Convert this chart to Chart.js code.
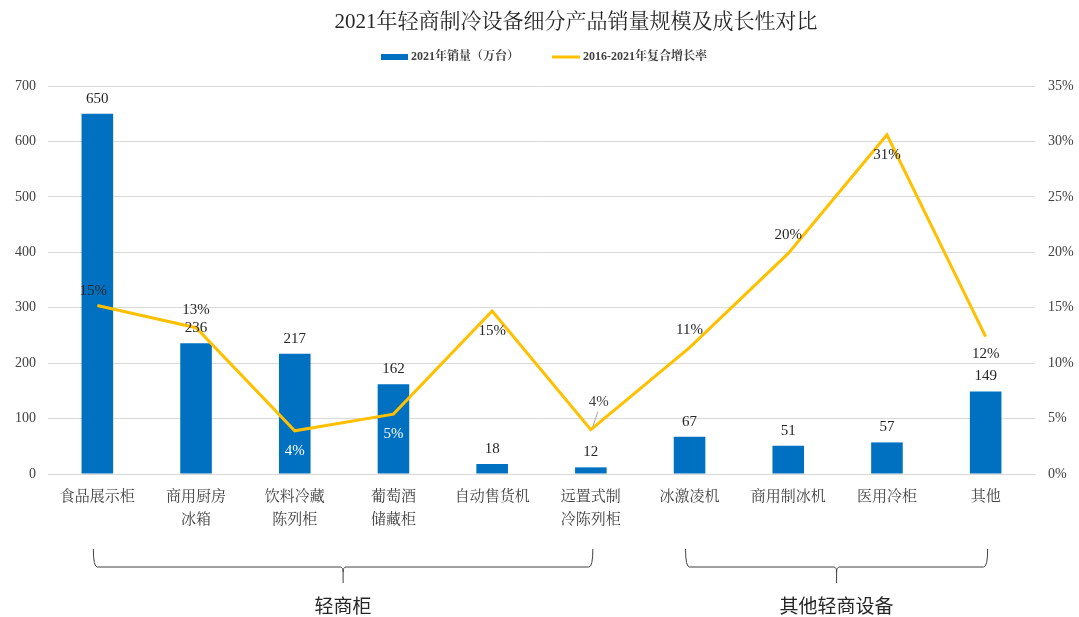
<!DOCTYPE html>
<html>
<head>
<meta charset="utf-8">
<script src="https://cdn.jsdelivr.net/npm/chart.js@4.4.1/dist/chart.umd.min.js"></script>
<style>
  body { margin: 0; background: #fff; }
</style>
</head>
<body>
<canvas id="salesChart" width="1079" height="617"></canvas>
<script>
// data
const categories = [
  ["食品展示柜"], ["商用厨房", "冰箱"], ["饮料冷藏", "陈列柜"], ["葡萄酒", "储藏柜"],
  ["自动售货机"], ["远置式制", "冷陈列柜"], ["冰激凌机"], ["商用制冰机"], ["医用冷柜"], ["其他"]
];
const sales = [650, 236, 217, 162, 18, 12, 67, 51, 57, 149];          // 万台
const growth = [15.2, 13.2, 3.9, 5.4, 14.7, 4.0, 11.4, 19.9, 30.6, 12.4]; // %
const groupNames = ["轻商柜", "其他轻商设备"];
const groupFrom = [0, 6];
const groupTo = [5, 9];

// where the % labels sit around each point (style only)
const pctDx = [-4, 0, 0, 0, 0, 8, 0, 0, 0, 0];
const pctDy = [-14, -18, 20, 20, 20, -28, -18, -18, 20, 18];
const pctColor = ["#262626", "#262626", "#fff", "#fff", "#262626", "#404040", "#262626", "#262626", "#262626", "#262626"];

const SERIF = "'Liberation Serif', 'Noto Serif CJK SC', 'Noto Sans CJK SC', serif";
const TXT = "#262626";

const extras = {
  id: "extras",
  afterDatasetsDraw(chart) {
    const ctx = chart.ctx;
    ctx.save();
    ctx.textAlign = "center";
    ctx.textBaseline = "middle";
    ctx.font = "15px " + SERIF;

    // bar values
    chart.getDatasetMeta(0).data.forEach((bar, i) => {
      ctx.fillStyle = TXT;
      ctx.fillText(sales[i], bar.x, bar.y - 15);
    });

    // growth labels
    chart.getDatasetMeta(1).data.forEach((pt, i) => {
      const x = pt.x + pctDx[i];
      const y = pt.y + pctDy[i];
      if (i == 5) {
        ctx.strokeStyle = "#a6a6a6";
        ctx.lineWidth = 1;
        ctx.beginPath();
        ctx.moveTo(pt.x + 2, pt.y - 3);
        ctx.lineTo(x - 1, y + 10);
        ctx.stroke();
      }
      ctx.fillStyle = pctColor[i];
      ctx.fillText(Math.round(growth[i]) + "%", x, y);
    });
    ctx.restore();
  },
  afterDraw(chart) {
    const ctx = chart.ctx;
    const xs = chart.scales.x;
    const ds = chart.data.datasets;
    ctx.save();

    // title
    ctx.fillStyle = TXT;
    ctx.textAlign = "center";
    ctx.textBaseline = "middle";
    ctx.font = "21px " + SERIF;
    ctx.fillText("2021年轻商制冷设备细分产品销量规模及成长性对比", 576, 22);

    // legend
    ctx.textAlign = "left";
    ctx.font = "bold 12px " + SERIF;
    ctx.fillStyle = ds[0].backgroundColor;
    ctx.fillRect(381, 54, 27, 6);
    ctx.fillStyle = "#404040";
    ctx.fillText(ds[0].label, 411, 57);
    ctx.strokeStyle = ds[1].borderColor;
    ctx.lineWidth = 3;
    ctx.beginPath();
    ctx.moveTo(552, 57);
    ctx.lineTo(580, 57);
    ctx.stroke();
    ctx.fillText(ds[1].label, 583, 57);

    // group brackets
    ctx.textAlign = "center";
    ctx.strokeStyle = "#404040";
    ctx.lineWidth = 1;
    ctx.font = "19px 'Noto Sans CJK SC', sans-serif";
    for (let g = 0; g < groupNames.length; g++) {
      const x1 = xs.getPixelForValue(groupFrom[g]) - 4;
      const x2 = xs.getPixelForValue(groupTo[g]) + 2;
      const mid = (x1 + x2) / 2;
      ctx.beginPath();
      ctx.moveTo(x1, 549);
      ctx.quadraticCurveTo(x1, 567, x1 + 4, 567);
      ctx.lineTo(mid - 3, 567);
      ctx.quadraticCurveTo(mid, 567, mid, 572);
      ctx.lineTo(mid, 583);
      ctx.moveTo(mid, 572);
      ctx.quadraticCurveTo(mid, 567, mid + 3, 567);
      ctx.lineTo(x2 - 4, 567);
      ctx.quadraticCurveTo(x2, 567, x2, 549);
      ctx.stroke();
      ctx.fillStyle = TXT;
      ctx.fillText(groupNames[g], mid, 606);
    }
    ctx.restore();
  }
};

new Chart(document.getElementById("salesChart"), {
  data: {
    labels: categories,
    datasets: [
      {
        type: "bar",
        label: "2021年销量（万台）",
        data: sales,
        backgroundColor: "#0070c0",
        barPercentage: 0.32,
        categoryPercentage: 1,
        yAxisID: "y",
        order: 2,
      },
      {
        type: "line",
        label: "2016-2021年复合增长率",
        data: growth,
        borderColor: "#ffc000",
        backgroundColor: "#ffc000",
        borderWidth: 3,
        pointRadius: 0,
        tension: 0,
        yAxisID: "y1",
        order: 1,
      },
    ],
  },
  options: {
    responsive: false,
    animation: false,
    layout: { padding: { top: 86, left: 0, right: 0, bottom: 0 } },
    plugins: {
      title: { display: false },
      tooltip: { enabled: false },
      legend: { display: false },
    },
    scales: {
      x: {
        grid: { display: false, drawTicks: false },
        border: { color: "#d9d9d9" },
        ticks: {
          autoSkip: false,
          maxRotation: 0,
          padding: 12,
          color: "#404040",
          font: { family: SERIF, size: 15, lineHeight: 1.5 },
        },
        afterFit(scale) { scale.height = 143; },
      },
      y: {
        position: "left",
        min: 0,
        max: 700,
        grid: { color: "#d9d9d9", drawTicks: false },
        border: { display: false },
        ticks: {
          stepSize: 100,
          padding: 12,
          color: "#404040",
          font: { family: SERIF, size: 14 },
        },
        afterFit(scale) { scale.width = 48; },
      },
      y1: {
        position: "right",
        min: 0,
        max: 35,
        grid: { display: false, drawTicks: false },
        border: { display: false },
        ticks: {
          stepSize: 5,
          padding: 13,
          color: "#404040",
          font: { family: SERIF, size: 14 },
          callback: (v) => v + "%",
        },
        afterFit(scale) { scale.width = 44; },
      },
    },
  },
  plugins: [extras],
});
</script>
</body>
</html>
